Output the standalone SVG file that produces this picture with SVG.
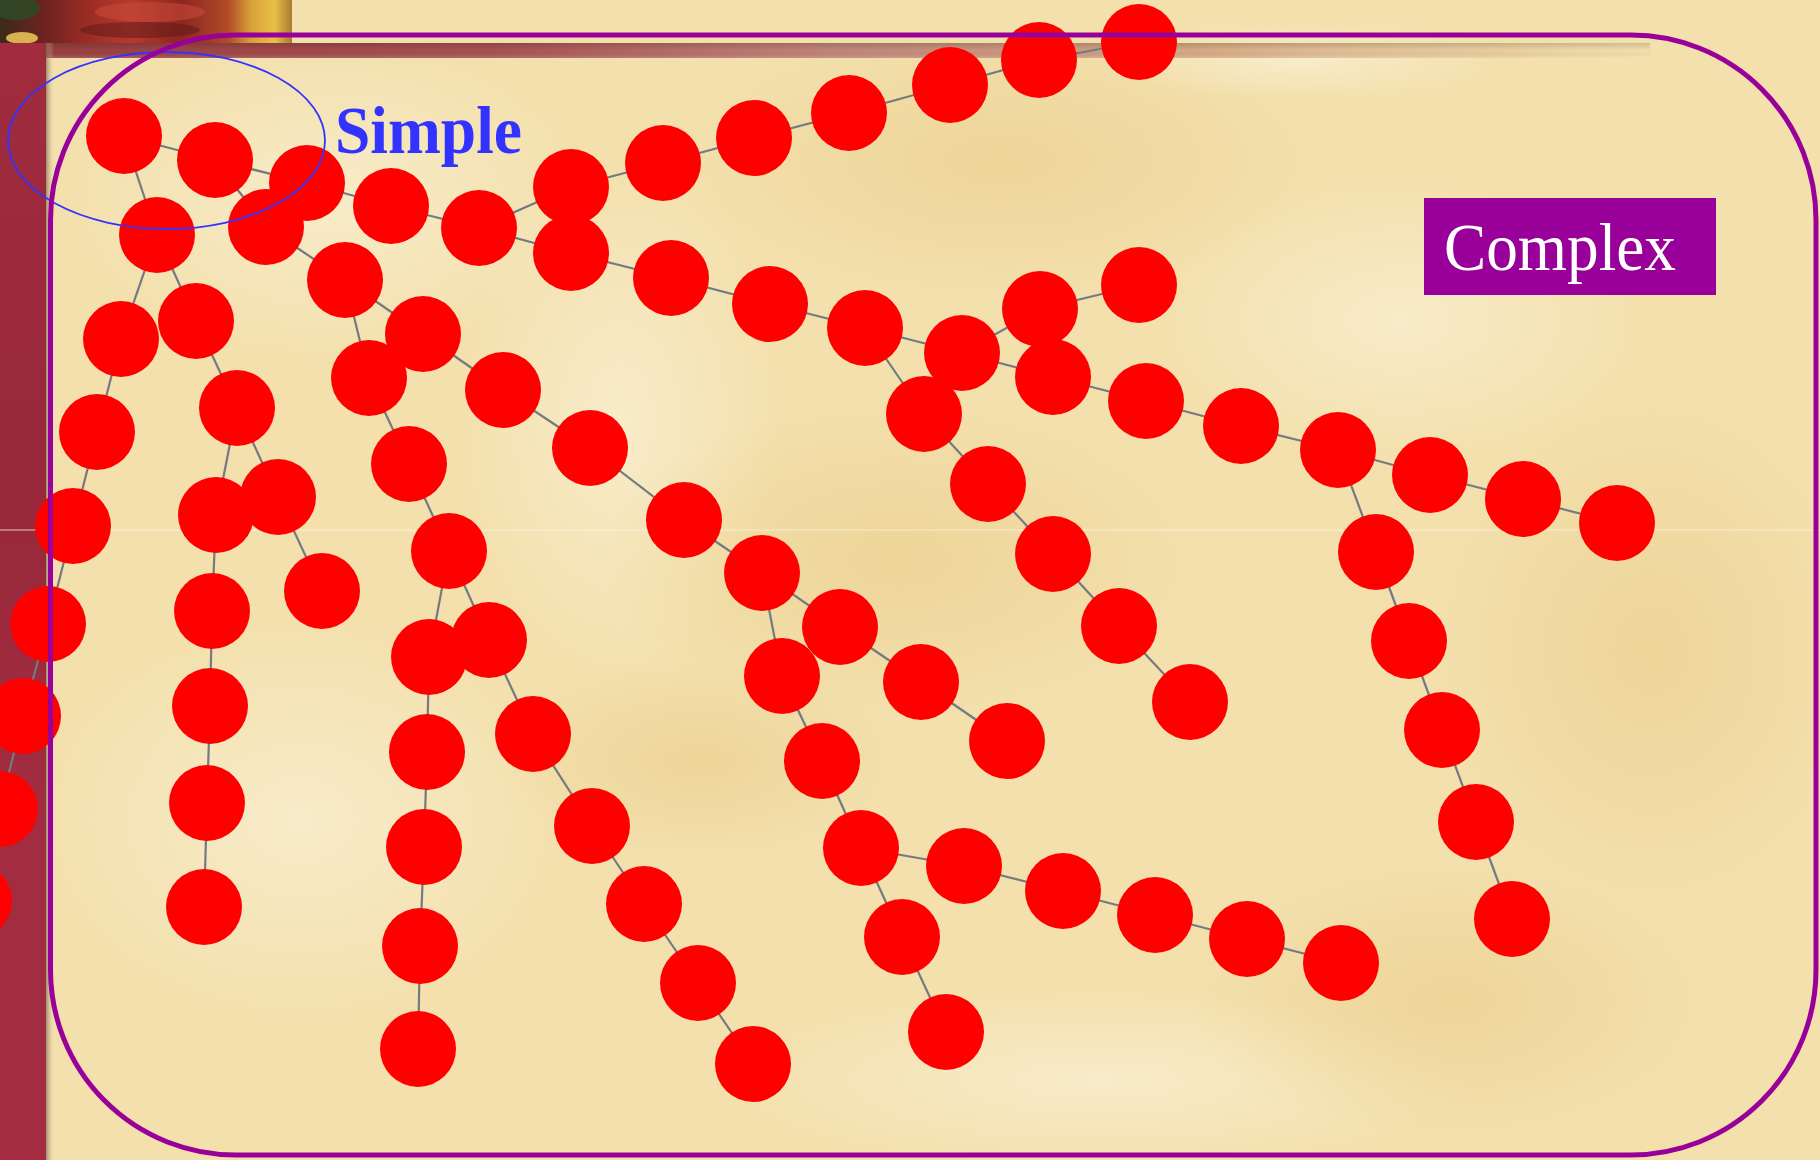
<svg xmlns="http://www.w3.org/2000/svg" width="1820" height="1160" viewBox="0 0 1820 1160">
<defs>
<style>
.node circle{fill:#ff0000}
.edge line{stroke:#737a80;stroke-width:2.2}
.lbl-simple{font-family:"Liberation Serif","Times New Roman",serif;font-weight:bold;font-size:68px;fill:#3333ff}
.lbl-complex{font-family:"Liberation Serif","Times New Roman",serif;font-size:67px;fill:#ffffff}
</style>
<radialGradient id="light" cx="0.5" cy="0.5" r="0.5">
<stop offset="0" stop-color="#f8edcc" stop-opacity="0.9"/>
<stop offset="1" stop-color="#f8edcc" stop-opacity="0"/>
</radialGradient>
<radialGradient id="dark" cx="0.5" cy="0.5" r="0.5">
<stop offset="0" stop-color="#ecd08f" stop-opacity="0.7"/>
<stop offset="1" stop-color="#ecd08f" stop-opacity="0"/>
</radialGradient>
<linearGradient id="paint" x1="0" y1="0" x2="1" y2="0">
<stop offset="0" stop-color="#3a2c1a"/>
<stop offset="0.14" stop-color="#6a2220"/>
<stop offset="0.3" stop-color="#9a2c24"/>
<stop offset="0.45" stop-color="#b83a2c"/>
<stop offset="0.62" stop-color="#8c2620"/>
<stop offset="0.78" stop-color="#b04a28"/>
<stop offset="0.86" stop-color="#d8a038"/>
<stop offset="0.94" stop-color="#e8c048"/>
<stop offset="1" stop-color="#a87a30"/>
</linearGradient>
<linearGradient id="band" x1="0" y1="0" x2="1" y2="0">
<stop offset="0" stop-color="#983c3e"/>
<stop offset="0.3" stop-color="#a85252"/>
<stop offset="0.5" stop-color="#c08478"/>
<stop offset="0.72" stop-color="#d6a884"/>
<stop offset="0.9" stop-color="#e2c090" stop-opacity="0.6"/>
<stop offset="1" stop-color="#e8cc98" stop-opacity="0"/>
</linearGradient>
<linearGradient id="bandv" x1="0" y1="0" x2="0" y2="1">
<stop offset="0" stop-color="#000" stop-opacity="0.15"/>
<stop offset="0.5" stop-color="#000" stop-opacity="0"/>
<stop offset="1" stop-color="#fff" stop-opacity="0.15"/>
</linearGradient>
<linearGradient id="leftband" x1="0" y1="0" x2="0" y2="1">
<stop offset="0" stop-color="#a02c3e"/>
<stop offset="0.4" stop-color="#98283a"/>
<stop offset="0.7" stop-color="#a22d40"/>
<stop offset="1" stop-color="#a32c40"/>
</linearGradient>
<linearGradient id="shadowR" x1="0" y1="0" x2="1" y2="0">
<stop offset="0" stop-color="#7a6a55" stop-opacity="0.7"/>
<stop offset="1" stop-color="#e8d0a0" stop-opacity="0"/>
</linearGradient>
</defs>

<!-- background -->
<g id="background">
<rect x="0" y="0" width="1820" height="1160" fill="#f3e0ad"/>
<ellipse cx="330" cy="200" rx="260" ry="160" fill="url(#light)"/>
<ellipse cx="620" cy="420" rx="160" ry="260" fill="url(#light)"/>
<ellipse cx="1000" cy="160" rx="320" ry="140" fill="url(#dark)"/>
<ellipse cx="900" cy="560" rx="300" ry="160" fill="url(#dark)"/>
<ellipse cx="1400" cy="320" rx="240" ry="140" fill="url(#light)"/>
<ellipse cx="1650" cy="650" rx="220" ry="260" fill="url(#dark)"/>
<ellipse cx="300" cy="820" rx="260" ry="200" fill="url(#light)"/>
<ellipse cx="1100" cy="1080" rx="380" ry="90" fill="url(#light)"/>
<ellipse cx="1450" cy="1000" rx="260" ry="140" fill="url(#dark)"/>
<ellipse cx="700" cy="760" rx="200" ry="100" fill="url(#dark)"/>
<ellipse cx="1300" cy="60" rx="200" ry="40" fill="url(#light)"/>
<rect x="0" y="0" width="292" height="43" fill="url(#paint)"/>
<ellipse cx="16" cy="8" rx="24" ry="12" fill="#2f4a26" opacity="0.85"/>
<ellipse cx="22" cy="38" rx="16" ry="6" fill="#e8c058" opacity="0.9"/>
<ellipse cx="150" cy="12" rx="55" ry="10" fill="#c84a3a" opacity="0.55"/>
<ellipse cx="140" cy="30" rx="60" ry="8" fill="#5a1818" opacity="0.5"/>
<rect x="0" y="43" width="1650" height="15" fill="url(#band)"/>
<rect x="0" y="43" width="1650" height="15" fill="url(#bandv)"/>
<rect x="0" y="43" width="46" height="1117" fill="url(#leftband)"/>
<rect x="46" y="43" width="8" height="1117" fill="url(#shadowR)"/>
<line x1="0" y1="530" x2="1820" y2="530" stroke="#fbf3de" stroke-width="1.2" opacity="0.8"/>
</g>

<!-- connectors -->
<g id="connectors" class="edge">
<line x1="124" y1="136" x2="215" y2="160"/>
<line x1="215" y1="160" x2="307" y2="183"/>
<line x1="124" y1="136" x2="157" y2="235"/>
<line x1="215" y1="160" x2="266" y2="227"/>
<line x1="307" y1="183" x2="391" y2="206"/>
<line x1="391" y1="206" x2="479" y2="228"/>
<line x1="479" y1="228" x2="571" y2="187"/>
<line x1="479" y1="228" x2="571" y2="253"/>
<line x1="571" y1="187" x2="663" y2="163"/>
<line x1="663" y1="163" x2="754" y2="138"/>
<line x1="754" y1="138" x2="849" y2="113"/>
<line x1="849" y1="113" x2="950" y2="85"/>
<line x1="950" y1="85" x2="1039" y2="60"/>
<line x1="1039" y1="60" x2="1139" y2="42"/>
<line x1="571" y1="253" x2="671" y2="278"/>
<line x1="671" y1="278" x2="770" y2="304"/>
<line x1="770" y1="304" x2="865" y2="328"/>
<line x1="865" y1="328" x2="962" y2="353"/>
<line x1="962" y1="353" x2="1053" y2="377"/>
<line x1="1053" y1="377" x2="1146" y2="401"/>
<line x1="1146" y1="401" x2="1241" y2="426"/>
<line x1="1241" y1="426" x2="1338" y2="450"/>
<line x1="1338" y1="450" x2="1430" y2="475"/>
<line x1="1430" y1="475" x2="1523" y2="499"/>
<line x1="1523" y1="499" x2="1617" y2="523"/>
<line x1="962" y1="353" x2="1040" y2="309"/>
<line x1="1040" y1="309" x2="1139" y2="285"/>
<line x1="865" y1="328" x2="924" y2="414"/>
<line x1="924" y1="414" x2="988" y2="484"/>
<line x1="988" y1="484" x2="1053" y2="554"/>
<line x1="1053" y1="554" x2="1119" y2="626"/>
<line x1="1119" y1="626" x2="1190" y2="702"/>
<line x1="1338" y1="450" x2="1376" y2="552"/>
<line x1="1376" y1="552" x2="1409" y2="641"/>
<line x1="1409" y1="641" x2="1442" y2="730"/>
<line x1="1442" y1="730" x2="1476" y2="822"/>
<line x1="1476" y1="822" x2="1512" y2="919"/>
<line x1="157" y1="235" x2="121" y2="339"/>
<line x1="121" y1="339" x2="97" y2="432"/>
<line x1="97" y1="432" x2="73" y2="526"/>
<line x1="73" y1="526" x2="48" y2="624"/>
<line x1="48" y1="624" x2="23" y2="716"/>
<line x1="23" y1="716" x2="0" y2="809"/>
<line x1="0" y1="809" x2="-26" y2="901"/>
<line x1="157" y1="235" x2="196" y2="321"/>
<line x1="196" y1="321" x2="237" y2="408"/>
<line x1="237" y1="408" x2="278" y2="497"/>
<line x1="278" y1="497" x2="322" y2="591"/>
<line x1="237" y1="408" x2="216" y2="515"/>
<line x1="216" y1="515" x2="212" y2="611"/>
<line x1="212" y1="611" x2="210" y2="706"/>
<line x1="210" y1="706" x2="207" y2="803"/>
<line x1="207" y1="803" x2="204" y2="907"/>
<line x1="266" y1="227" x2="345" y2="280"/>
<line x1="345" y1="280" x2="369" y2="378"/>
<line x1="369" y1="378" x2="409" y2="464"/>
<line x1="409" y1="464" x2="449" y2="551"/>
<line x1="449" y1="551" x2="429" y2="657"/>
<line x1="429" y1="657" x2="427" y2="752"/>
<line x1="427" y1="752" x2="424" y2="847"/>
<line x1="424" y1="847" x2="420" y2="946"/>
<line x1="420" y1="946" x2="418" y2="1049"/>
<line x1="449" y1="551" x2="489" y2="640"/>
<line x1="489" y1="640" x2="533" y2="734"/>
<line x1="533" y1="734" x2="592" y2="826"/>
<line x1="592" y1="826" x2="644" y2="904"/>
<line x1="644" y1="904" x2="698" y2="983"/>
<line x1="698" y1="983" x2="753" y2="1064"/>
<line x1="345" y1="280" x2="423" y2="334"/>
<line x1="423" y1="334" x2="503" y2="390"/>
<line x1="503" y1="390" x2="590" y2="448"/>
<line x1="590" y1="448" x2="684" y2="520"/>
<line x1="684" y1="520" x2="762" y2="573"/>
<line x1="762" y1="573" x2="840" y2="627"/>
<line x1="840" y1="627" x2="921" y2="682"/>
<line x1="921" y1="682" x2="1007" y2="741"/>
<line x1="762" y1="573" x2="782" y2="676"/>
<line x1="782" y1="676" x2="822" y2="761"/>
<line x1="822" y1="761" x2="861" y2="848"/>
<line x1="861" y1="848" x2="964" y2="866"/>
<line x1="964" y1="866" x2="1063" y2="891"/>
<line x1="1063" y1="891" x2="1155" y2="915"/>
<line x1="1155" y1="915" x2="1247" y2="939"/>
<line x1="1247" y1="939" x2="1341" y2="963"/>
<line x1="861" y1="848" x2="902" y2="937"/>
<line x1="902" y1="937" x2="946" y2="1032"/>
</g>

<!-- nodes -->
<g id="n1" class="node"><circle cx="124" cy="136" r="38"/></g>
<g id="n2" class="node"><circle cx="215" cy="160" r="38"/></g>
<g id="n3" class="node"><circle cx="307" cy="183" r="38"/></g>
<g id="n4" class="node"><circle cx="157" cy="235" r="38"/></g>
<g id="n5" class="node"><circle cx="266" cy="227" r="38"/></g>
<g id="n6" class="node"><circle cx="391" cy="206" r="38"/></g>
<g id="n7" class="node"><circle cx="479" cy="228" r="38"/></g>
<g id="n8" class="node"><circle cx="571" cy="187" r="38"/></g>
<g id="n9" class="node"><circle cx="571" cy="253" r="38"/></g>
<g id="t1" class="node"><circle cx="663" cy="163" r="38"/></g>
<g id="t2" class="node"><circle cx="754" cy="138" r="38"/></g>
<g id="t3" class="node"><circle cx="849" cy="113" r="38"/></g>
<g id="t4" class="node"><circle cx="950" cy="85" r="38"/></g>
<g id="t5" class="node"><circle cx="1039" cy="60" r="38"/></g>
<g id="t6" class="node"><circle cx="1139" cy="42" r="38"/></g>
<g id="m1" class="node"><circle cx="671" cy="278" r="38"/></g>
<g id="m2" class="node"><circle cx="770" cy="304" r="38"/></g>
<g id="m3" class="node"><circle cx="865" cy="328" r="38"/></g>
<g id="m4" class="node"><circle cx="962" cy="353" r="38"/></g>
<g id="m5" class="node"><circle cx="1053" cy="377" r="38"/></g>
<g id="m6" class="node"><circle cx="1146" cy="401" r="38"/></g>
<g id="m7" class="node"><circle cx="1241" cy="426" r="38"/></g>
<g id="m8" class="node"><circle cx="1338" cy="450" r="38"/></g>
<g id="m9" class="node"><circle cx="1430" cy="475" r="38"/></g>
<g id="m10" class="node"><circle cx="1523" cy="499" r="38"/></g>
<g id="m11" class="node"><circle cx="1617" cy="523" r="38"/></g>
<g id="b1" class="node"><circle cx="1040" cy="309" r="38"/></g>
<g id="b2" class="node"><circle cx="1139" cy="285" r="38"/></g>
<g id="d1" class="node"><circle cx="924" cy="414" r="38"/></g>
<g id="d2" class="node"><circle cx="988" cy="484" r="38"/></g>
<g id="d3" class="node"><circle cx="1053" cy="554" r="38"/></g>
<g id="d4" class="node"><circle cx="1119" cy="626" r="38"/></g>
<g id="d5" class="node"><circle cx="1190" cy="702" r="38"/></g>
<g id="r1" class="node"><circle cx="1376" cy="552" r="38"/></g>
<g id="r2" class="node"><circle cx="1409" cy="641" r="38"/></g>
<g id="r3" class="node"><circle cx="1442" cy="730" r="38"/></g>
<g id="r4" class="node"><circle cx="1476" cy="822" r="38"/></g>
<g id="r5" class="node"><circle cx="1512" cy="919" r="38"/></g>
<g id="l1" class="node"><circle cx="121" cy="339" r="38"/></g>
<g id="l2" class="node"><circle cx="97" cy="432" r="38"/></g>
<g id="l3" class="node"><circle cx="73" cy="526" r="38"/></g>
<g id="l4" class="node"><circle cx="48" cy="624" r="38"/></g>
<g id="l5" class="node"><circle cx="23" cy="716" r="38"/></g>
<g id="l6" class="node"><circle cx="0" cy="809" r="38"/></g>
<g id="l7" class="node"><circle cx="-26" cy="901" r="38"/></g>
<g id="k1" class="node"><circle cx="196" cy="321" r="38"/></g>
<g id="k2" class="node"><circle cx="237" cy="408" r="38"/></g>
<g id="k3" class="node"><circle cx="278" cy="497" r="38"/></g>
<g id="k4" class="node"><circle cx="322" cy="591" r="38"/></g>
<g id="c1" class="node"><circle cx="216" cy="515" r="38"/></g>
<g id="c2" class="node"><circle cx="212" cy="611" r="38"/></g>
<g id="c3" class="node"><circle cx="210" cy="706" r="38"/></g>
<g id="c4" class="node"><circle cx="207" cy="803" r="38"/></g>
<g id="c5" class="node"><circle cx="204" cy="907" r="38"/></g>
<g id="p1" class="node"><circle cx="345" cy="280" r="38"/></g>
<g id="p2" class="node"><circle cx="369" cy="378" r="38"/></g>
<g id="p3" class="node"><circle cx="409" cy="464" r="38"/></g>
<g id="p4" class="node"><circle cx="449" cy="551" r="38"/></g>
<g id="p5" class="node"><circle cx="429" cy="657" r="38"/></g>
<g id="p6" class="node"><circle cx="427" cy="752" r="38"/></g>
<g id="p7" class="node"><circle cx="424" cy="847" r="38"/></g>
<g id="p8" class="node"><circle cx="420" cy="946" r="38"/></g>
<g id="p9" class="node"><circle cx="418" cy="1049" r="38"/></g>
<g id="q1" class="node"><circle cx="489" cy="640" r="38"/></g>
<g id="q2" class="node"><circle cx="533" cy="734" r="38"/></g>
<g id="q3" class="node"><circle cx="592" cy="826" r="38"/></g>
<g id="q4" class="node"><circle cx="644" cy="904" r="38"/></g>
<g id="q5" class="node"><circle cx="698" cy="983" r="38"/></g>
<g id="q6" class="node"><circle cx="753" cy="1064" r="38"/></g>
<g id="s1" class="node"><circle cx="423" cy="334" r="38"/></g>
<g id="s2" class="node"><circle cx="503" cy="390" r="38"/></g>
<g id="s3" class="node"><circle cx="590" cy="448" r="38"/></g>
<g id="s4" class="node"><circle cx="684" cy="520" r="38"/></g>
<g id="s5" class="node"><circle cx="762" cy="573" r="38"/></g>
<g id="s6" class="node"><circle cx="840" cy="627" r="38"/></g>
<g id="s7" class="node"><circle cx="921" cy="682" r="38"/></g>
<g id="s8" class="node"><circle cx="1007" cy="741" r="38"/></g>
<g id="u1" class="node"><circle cx="782" cy="676" r="38"/></g>
<g id="u2" class="node"><circle cx="822" cy="761" r="38"/></g>
<g id="u3" class="node"><circle cx="861" cy="848" r="38"/></g>
<g id="u4" class="node"><circle cx="964" cy="866" r="38"/></g>
<g id="u5" class="node"><circle cx="1063" cy="891" r="38"/></g>
<g id="u6" class="node"><circle cx="1155" cy="915" r="38"/></g>
<g id="u7" class="node"><circle cx="1247" cy="939" r="38"/></g>
<g id="u8" class="node"><circle cx="1341" cy="963" r="38"/></g>
<g id="v1" class="node"><circle cx="902" cy="937" r="38"/></g>
<g id="v2" class="node"><circle cx="946" cy="1032" r="38"/></g>

<!-- frames and labels -->
<g id="simple-group">
<ellipse cx="166.5" cy="140.5" rx="158.5" ry="88.5" fill="none" stroke="#3333ff" stroke-width="1.8"/>
<text class="lbl-simple" x="335" y="153" textLength="187" lengthAdjust="spacingAndGlyphs">Simple</text>
</g>
<g id="complex-group">
<rect x="50.5" y="35" width="1765.5" height="1120" rx="185" ry="185" fill="none" stroke="#990099" stroke-width="5"/>
<rect x="1424" y="198" width="292" height="97" fill="#990099"/>
<text class="lbl-complex" x="1444" y="270" textLength="232" lengthAdjust="spacingAndGlyphs">Complex</text>
</g>
</svg>
